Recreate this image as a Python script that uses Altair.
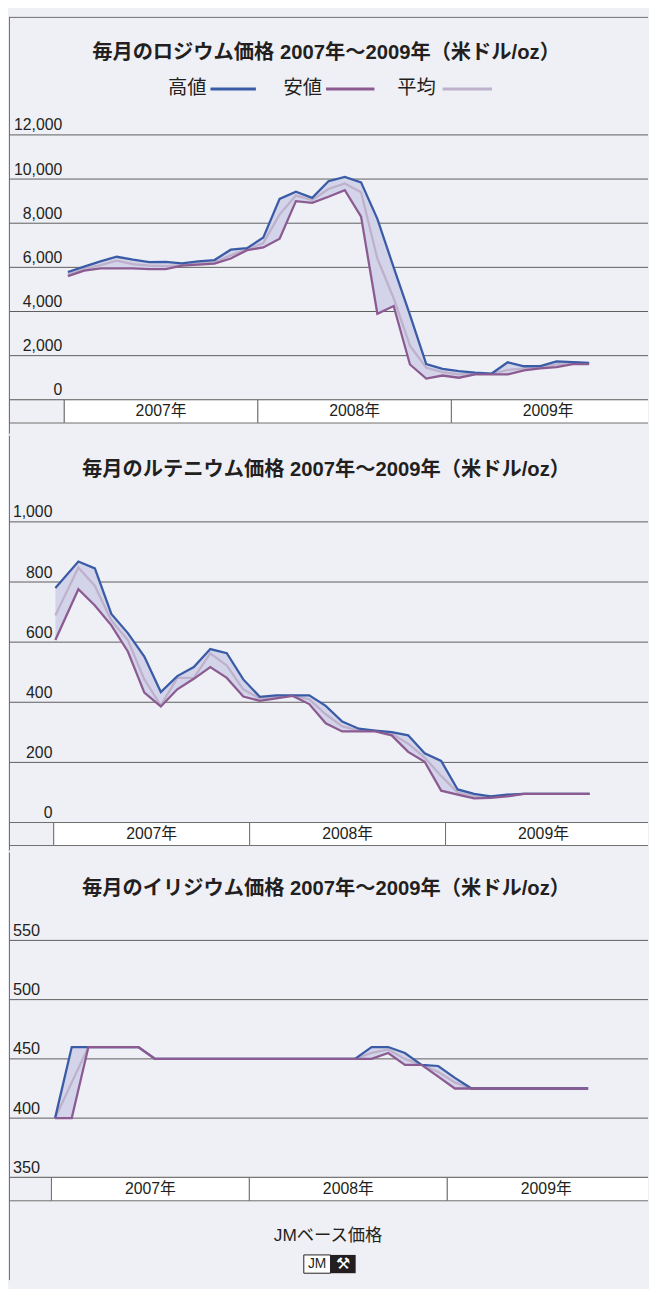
import altair as alt
import pandas as pd

# ---------------- data ----------------
TITLES = [
    "毎月のロジウム価格 2007年～2009年（米ドル/oz）",
    "毎月のルテニウム価格 2007年～2009年（米ドル/oz）",
    "毎月のイリジウム価格 2007年～2009年（米ドル/oz）",
]
SERIES_NAMES = ["高値", "安値", "平均"]
YEAR_LABELS = ["2007年", "2008年", "2009年"]
FOOTER = "JMベース価格"

rh_high = [5790, 6030, 6270, 6480, 6350, 6240, 6250, 6180, 6270, 6330, 6800, 6870, 7350,
           9100, 9430, 9150, 9900, 10100, 9850, 8200, 6000, 3850, 1620, 1400, 1300, 1230,
           1180, 1700, 1520, 1530, 1740, 1710, 1670]
rh_low = [5600, 5850, 5950, 5950, 5950, 5920, 5920, 6080, 6120, 6170, 6400, 6780, 6900,
          7300, 9000, 8920, 9200, 9500, 8300, 3900, 4250, 1600, 960, 1100, 1000, 1150,
          1150, 1150, 1330, 1420, 1480, 1620, 1620]
rh_avg = [5700, 5930, 6100, 6300, 6150, 6080, 6060, 6100, 6180, 6230, 6550, 6820, 7100,
          8400, 9250, 9050, 9550, 9800, 9400, 6400, 4600, 2450, 1450, 1250, 1150, 1180,
          1170, 1350, 1420, 1470, 1600, 1680, 1650]
rh_ticks = [0, 2000, 4000, 6000, 8000, 10000, 12000]
rh_tick_labels = ["0", "2,000", "4,000", "6,000", "8,000", "10,000", "12,000"]

ru_high = [780, 868, 845, 694, 630, 552, 434, 487, 517, 577, 563, 476, 418, 423, 423, 423,
           388, 336, 312, 306, 301, 290, 230, 205, 110, 95, 87, 93, 95, 95, 95, 95, 95]
ru_low = [607, 776, 722, 656, 569, 432, 386, 443, 478, 517, 481, 419, 405, 413, 421, 394,
          330, 303, 303, 303, 290, 235, 202, 106, 93, 80, 82, 87, 95, 95, 95, 95, 95]
ru_avg = [689, 848, 787, 672, 607, 476, 390, 481, 481, 563, 522, 443, 412, 418, 422, 410,
          360, 320, 306, 305, 296, 262, 216, 155, 100, 88, 85, 90, 95, 95, 95, 95, 95]
ru_ticks = [0, 200, 400, 600, 800, 1000]
ru_tick_labels = ["0", "200", "400", "600", "800", "1,000"]

ir_high = [400, 460, 460, 460, 460, 460, 450, 450, 450, 450, 450, 450, 450, 450, 450, 450,
           450, 450, 450, 460, 460, 455, 445, 444, 434, 425, 425, 425, 425, 425, 425, 425, 425]
ir_low = [400, 400, 460, 460, 460, 460, 450, 450, 450, 450, 450, 450, 450, 450, 450, 450,
          450, 450, 450, 450, 455, 445, 445, 435, 425, 425, 425, 425, 425, 425, 425, 425, 425]
ir_avg = [400, 430, 460, 460, 460, 460, 450, 450, 450, 450, 450, 450, 450, 450, 450, 450,
          450, 450, 450, 455, 458, 450, 445, 439, 430, 425, 425, 425, 425, 425, 425, 425, 425]
ir_ticks = [350, 400, 450, 500, 550]
ir_tick_labels = ["350", "400", "450", "500", "550"]

# month positions (month units from Jan 2007)
rh_x = [0.22 + 1.01 * i for i in range(len(rh_high))]
ru_x = [0.1] + [0.5 + 1.01 * i for i in range(1, len(ru_high))]
ir_x = [0.22 + 1.01 * i for i in range(len(ir_high))]

# ---------------- style ----------------
W = 647
BG = "#eff0f6"
FONT = "Liberation Sans, Noto Sans CJK JP, sans-serif"
C_HIGH = "#3a5ba6"
C_LOW = "#8b5b91"
C_AVG = "#bdb1cb"
C_FILL = "#d3d4ea"
C_GRID = "#5c5c5c"
C_TEXT = "#231f20"


def txt(s, x, y, size, weight="normal", align="center", color=C_TEXT):
    return alt.Chart(pd.DataFrame({"t": [s]})).mark_text(
        fontSize=size, fontWeight=weight, align=align, baseline="middle",
        font=FONT, color=color
    ).encode(text="t:N", x=alt.value(x), y=alt.value(y))


def panel(title, title_y, high, low, avg, xs, xdom, ydom, ticks, tick_labels,
          label_right, label_size, table_bottom, H, legend=False, footer=False, top=False):
    df = pd.DataFrame({"m": xs, "high": high, "low": low, "avg": avg})
    xsc = alt.Scale(domain=xdom, nice=False, zero=False)
    ysc = alt.Scale(domain=ydom, nice=False, zero=False)
    X = alt.X("m:Q", scale=xsc, axis=None)
    base = alt.Chart(df)

    grid_df = pd.DataFrame({"v": ticks, "lab": tick_labels})
    grid = alt.Chart(grid_df).mark_rule(color=C_GRID, strokeWidth=1).encode(
        y=alt.Y("v:Q", scale=ysc, axis=None))
    ylabels = alt.Chart(grid_df).mark_text(
        align="right", baseline="alphabetic", dy=-4.5, fontSize=label_size,
        font=FONT, color=C_TEXT).encode(
        y=alt.Y("v:Q", scale=ysc, axis=None), x=alt.value(label_right), text="lab:N")

    y0 = ticks[0]
    cells = pd.DataFrame({
        "s": [xdom[0], 0, 12, 24],
        "e": [0, 12, 24, xdom[1] + 2],
        "lab": [""] + YEAR_LABELS,
        "fill": ["bg", "w", "w", "w"],
        "y0": [y0] * 4,
        "y1": [table_bottom] * 4,
    })
    cells["c"] = (cells["s"] + cells["e"]) / 2
    cells.loc[3, "c"] = 30
    cells["yc"] = (cells["y0"] + cells["y1"]) / 2
    table = alt.Chart(cells).mark_rect(stroke="#6e6e6e", strokeWidth=1, clip=True).encode(
        x=alt.X("s:Q", scale=xsc, axis=None), x2="e:Q",
        y=alt.Y("y0:Q", scale=ysc, axis=None), y2="y1:Q",
        fill=alt.Fill("fill:N", scale=alt.Scale(domain=["bg", "w"], range=[BG, "#ffffff"]),
                      legend=None))
    table_text = alt.Chart(cells).mark_text(fontSize=16, font=FONT, color=C_TEXT,
                                            baseline="middle").encode(
        x=alt.X("c:Q", scale=xsc, axis=None), y=alt.Y("yc:Q", scale=ysc, axis=None),
        text="lab:N")

    area = base.mark_area(color=C_FILL).encode(
        x=X, y=alt.Y("high:Q", scale=ysc, axis=None), y2="low:Q")
    l_avg = base.mark_line(color=C_AVG, strokeWidth=2.3).encode(
        x=X, y=alt.Y("avg:Q", scale=ysc, axis=None))
    l_high = base.mark_line(color=C_HIGH, strokeWidth=2.3).encode(
        x=X, y=alt.Y("high:Q", scale=ysc, axis=None))
    l_low = base.mark_line(color=C_LOW, strokeWidth=2.3).encode(
        x=X, y=alt.Y("low:Q", scale=ysc, axis=None))

    layers = [grid, table, table_text, ylabels, area, l_avg, l_high, l_low,
              txt(title, 321, title_y, 20.5, weight="bold")]

    one = pd.DataFrame({"a": [0]})
    layers.append(alt.Chart(one).mark_rule(color="#6e6e6e", strokeWidth=1).encode(
        x=alt.value(0.5), y=alt.value(0), y2=alt.value(H)))
    if top:
        layers.append(alt.Chart(one).mark_rule(color="#6e6e6e", strokeWidth=1).encode(
            x=alt.value(0), x2=alt.value(W), y=alt.value(0.5)))

    if legend:
        leg = [(SERIES_NAMES[0], 200, 204, 250, C_HIGH),
               (SERIES_NAMES[1], 317, 321, 370, C_LOW),
               (SERIES_NAMES[2], 432, 439, 489, C_AVG)]
        for name, tx, a, b, col in leg:
            layers.append(txt(name, tx, 72, 19.5, align="right"))
            layers.append(alt.Chart(one).mark_rule(color=col, strokeWidth=3).encode(
                x=alt.value(a), x2=alt.value(b), y=alt.value(73)))

    if footer:
        layers.append(txt(FOOTER, 323, 388, 17.5))
        layers.append(alt.Chart(one).mark_rect(fill="#ffffff", stroke="#231f20",
                                               strokeWidth=1).encode(
            x=alt.value(298.5), x2=alt.value(325.5), y=alt.value(407.5), y2=alt.value(426)))
        layers.append(alt.Chart(one).mark_rect(fill="#231f20").encode(
            x=alt.value(325.5), x2=alt.value(351), y=alt.value(407.5), y2=alt.value(426)))
        layers.append(txt("JM", 312, 417, 14))
        layers.append(txt("⚒", 338.3, 417, 16, color="#ffffff"))

    return alt.layer(*layers).properties(width=W, height=H)


p1 = panel(TITLES[0], 37, rh_high, rh_low, rh_avg, rh_x,
           [-3.429, 36.19], [-1534.7, 17346.8], rh_ticks, rh_tick_labels,
           54, 16, -1051, 422, legend=True, top=True)
p2 = panel(TITLES[1], 35, ru_high, ru_low, ru_avg, ru_x,
           [-2.740, 36.40], [-93.0, 1286.8], ru_ticks, ru_tick_labels,
           44, 16, -76.5, 420)
p3 = panel(TITLES[2], 37, ir_high, ir_low, ir_avg, ir_x,
           [-2.575, 36.17], [263.3, 624.2], ir_ticks, ir_tick_labels,
           31.5, 16.5, 330.25, 433, footer=True)

chart = alt.vconcat(p1, p2, p3, spacing=0, padding=0, background=BG).configure_view(
    stroke=None)

chart.save("out.html", embed_options={"renderer": "svg", "actions": False})
